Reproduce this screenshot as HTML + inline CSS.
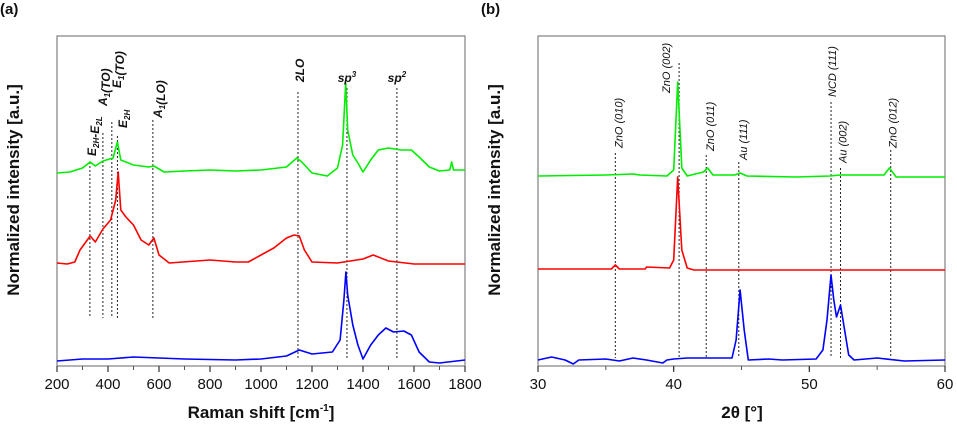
<!DOCTYPE html>
<html><head><meta charset="utf-8">
<style>
html,body{margin:0;padding:0;background:#fff;}
svg{display:block;font-family:"Liberation Sans",Arial,sans-serif;}
</style></head>
<body>
<svg id="fig" width="957" height="430" viewBox="0 0 957 430"></svg>
<script>
// ---------- Panel (a) data: Raman shift (cm-1), intensity (a.u., offset stacked) ----------
const ramanGreenX = [200,250,300,330,350,380,420,437,450,500,560,580,620,700,800,900,1000,1100,1140,1160,1200,1260,1300,1320,1332,1340,1360,1380,1400,1430,1460,1500,1550,1590,1620,1660,1700,1740,1748,1755,1800];
const ramanGreenY = [193,194,198,204,200,205,208,224,206,201,199,200,194,195,196,195,196,199,208,204,193,190,198,221,283,236,211,203,194,206,216,218,216,216,209,199,195,196,204,196,196];
const ramanRedX = [200,240,270,290,330,350,380,410,430,440,450,470,500,530,560,580,600,640,800,900,950,1000,1050,1100,1130,1150,1170,1200,1300,1400,1440,1500,1600,1800];
const ramanRedY = [103,102,104,116,130,124,137,146,166,194,156,149,141,126,121,128,111,103,106,104,104,111,118,128,131,130,116,104,103,107,111,105,102,102];
const ramanBlueX = [200,300,400,500,700,900,1000,1100,1150,1200,1280,1310,1325,1333,1340,1360,1380,1400,1430,1460,1490,1520,1560,1590,1620,1660,1700,1800];
const ramanBlueY = [5,7,7,9,7,6,7,10,16,12,14,26,66,94,71,41,21,7,21,31,38,34,35,31,14,4,3,6];
const ramanTicks = [200,400,600,800,1000,1200,1400,1600,1800];
const ramanLines = [329,380,415,437,576,1145,1337,1533];
const ramanLineTops = [162,133,122,136,120,92,88,88];

// ---------- Panel (b) data: 2theta (deg), intensity ----------
const xrdGreenX = [30,35,37,37.5,39.5,40.0,40.3,40.6,41,42.2,42.5,42.9,44.5,44.9,45.4,49,51.5,52.3,55.5,55.9,56.4,60];
const xrdGreenY = [190,191,192,191,190,196,284,198,190,194,198,191,191,193,190,189,190,191,191,198,189,189];
const xrdRedX = [30,35.4,35.7,36,37.9,38,39.7,40.0,40.3,40.6,41.0,41.5,60];
const xrdRedY = [97,97,101,97,97,99,98,106,189,116,98,96,96];
const xrdBlueX = [30,31,32,32.6,33,35,36,37,38,39.2,39.5,40,41,44.3,44.6,44.9,45.2,45.5,47,48,50.5,51.0,51.3,51.6,51.8,52.0,52.3,52.6,52.9,53.3,55,57,60];
const xrdBlueY = [6,9,6,2,6,7,5,8,6,3,6,7,8,8,26,76,36,6,7,6,7,16,46,91,66,49,61,36,11,6,8,5,6];
const xrdTicks = [30,40,50,60];
const xrdLines = [35.7,40.4,42.4,44.8,51.6,52.3,56.0];
const xrdLineTops = [153,63,155,162,102,168,150];
const xrdLabels = ["ZnO (010)","ZnO (002)","ZnO (011)","Au (111)","NCD (111)","Au (002)","ZnO (012)"];
const xrdLabelBottoms = [148,93,151,160,97,163,148];
const xrdLabelShift = [3,-13,4,4,1,2,2];

const NS = "http://www.w3.org/2000/svg";
const svg = document.getElementById('fig');
function el(tag, attrs, parent){
  const e = document.createElementNS(NS, tag);
  for (const k in attrs) e.setAttribute(k, attrs[k]);
  (parent||svg).appendChild(e);
  return e;
}
const plotTop = 36, plotBottom = 366;
function yScale(v){ return plotBottom - v; }

function panel(x0, x1, dmin, dmax, ticks, minorStep, name){
  const g = el('g', {});
  
  
  const xs = d => x0 + (d - dmin) / (dmax - dmin) * (x1 - x0);
  const fr = el('rect', {x:x0, y:plotTop, width:x1-x0, height:plotBottom-plotTop, fill:'none', stroke:'#808080', 'stroke-width':1.2}, g);
  
  
  for (let d = dmin; d <= dmax + 1e-9; d += minorStep){
    const t = el('line', {x1:xs(d), x2:xs(d), y1:plotBottom, y2:plotBottom+4, stroke:'#555', 'stroke-width':1}, g);
    
    
  }
  ticks.forEach(d => {
    const t = el('line', {x1:xs(d), x2:xs(d), y1:plotBottom, y2:plotBottom+6, stroke:'#333', 'stroke-width':1.2}, g);
    
    
    const tx = el('text', {x:xs(d), y:389, 'font-size':15, 'text-anchor':'middle', fill:'#111'}, g);
    
    
    tx.textContent = d;
  });
  return {g, xs};
}
function series(p, xsArr, ysArr, color, name){
  const pts = xsArr.map((d,i) => p.xs(d).toFixed(1) + ',' + yScale(ysArr[i]).toFixed(1)).join(' ');
  const pl = el('polyline', {points:pts, fill:'none', stroke:color, 'stroke-width':1.6, 'stroke-linejoin':'round'}, p.g);
  
  
}
function dash(p, d, yTop, yBot){
  const l = el('line', {x1:p.xs(d), x2:p.xs(d), y1:yTop, y2:yBot, stroke:'#222', 'stroke-width':1, 'stroke-dasharray':'2,2'}, p.g);
  
  
}
function vlabel(p, x, y, html, size, name){
  const t = el('text', {transform:'translate('+x+','+y+') rotate(-90)', 'font-size':size, 'font-style':'italic', 'font-weight':'bold', fill:'#111'}, p.g);
  
  
  t.innerHTML = html;
}

// ----- Panel a -----
const pa = panel(57, 465, 200, 1800, ramanTicks, 100, 'raman-panel');
ramanLines.forEach((d,i) => dash(pa, d, ramanLineTops[i], i < 5 ? 318 : 359));
series(pa, ramanBlueX, ramanBlueY, '#0000ff', 'raman-blue-series');
series(pa, ramanRedX, ramanRedY, '#ff0000', 'raman-red-series');
series(pa, ramanGreenX, ramanGreenY, '#00ee00', 'raman-green-series');
const sub = (s) => '<tspan font-size="8" dy="3">'+s+'</tspan><tspan dy="-3"></tspan>';
const supS = (s) => '<tspan font-size="8" dy="-5">'+s+'</tspan><tspan dy="5"></tspan>';
vlabel(pa, 96, 156, 'E'+sub('2H')+'-E'+sub('2L'), 12, 'peak-label-e2h-e2l');
vlabel(pa, 107, 106, 'A'+sub('1')+'(TO)', 12, 'peak-label-a1-to');
vlabel(pa, 121, 88, 'E'+sub('1')+'(TO)', 12, 'peak-label-e1-to');
vlabel(pa, 127, 128, 'E'+sub('2H'), 12, 'peak-label-e2h');
vlabel(pa, 162, 118, 'A'+sub('1')+'(LO)', 12, 'peak-label-a1-lo');
vlabel(pa, 304, 82, '2LO', 12, 'peak-label-2lo');
(function(){
  const t1 = el('text', {x:pa.xs(1337), y:82, 'font-size':12, 'font-style':'italic','font-weight':'bold','text-anchor':'middle', fill:'#111'}, pa.g);
  
  
  t1.innerHTML = 'sp'+supS('3');
  const t2 = el('text', {x:pa.xs(1533), y:82, 'font-size':12, 'font-style':'italic','font-weight':'bold','text-anchor':'middle', fill:'#111'}, pa.g);
  
  
  t2.innerHTML = 'sp'+supS('2');
})();

// ----- Panel b -----
const pb = panel(538, 945, 30, 60, xrdTicks, 5, 'xrd-panel');
xrdLines.forEach((d,i) => dash(pb, d, xrdLineTops[i], 358));
series(pb, xrdBlueX, xrdBlueY, '#0000ff', 'xrd-blue-series');
series(pb, xrdRedX, xrdRedY, '#ff0000', 'xrd-red-series');
series(pb, xrdGreenX, xrdGreenY, '#00ee00', 'xrd-green-series');
xrdLabels.forEach((s,i) => {
  const t = el('text', {transform:'translate('+(pb.xs(xrdLines[i])+xrdLabelShift[i]+4)+','+xrdLabelBottoms[i]+') rotate(-90)', 'font-size':11, 'font-style':'italic', fill:'#111'}, pb.g);
  
  
  t.textContent = s;
});

// ----- Titles -----
function txt(attrs, s, name){
  const t = el('text', attrs);
  
  
  t.innerHTML = s;
}
txt({x:0, y:14, 'font-size':15, 'font-weight':'bold', fill:'#111'}, '(a)', 'panel-a-label');
txt({x:481, y:14, 'font-size':15, 'font-weight':'bold', fill:'#111'}, '(b)', 'panel-b-label');
txt({x:261, y:418, 'font-size':17, 'font-weight':'bold', 'text-anchor':'middle', fill:'#111'}, 'Raman shift [cm<tspan font-size="10" dy="-7">-1</tspan><tspan dy="7">]</tspan>', 'raman-x-axis-title');
txt({x:742, y:418, 'font-size':17, 'font-weight':'bold', 'text-anchor':'middle', fill:'#111'}, '2θ [°]', 'xrd-x-axis-title');
txt({transform:'translate(19,190) rotate(-90)', 'font-size':17, 'font-weight':'bold', 'text-anchor':'middle', fill:'#111'}, 'Normalized intensity [a.u.]', 'raman-y-axis-title');
txt({transform:'translate(500,190) rotate(-90)', 'font-size':17, 'font-weight':'bold', 'text-anchor':'middle', fill:'#111'}, 'Normalized intensity [a.u.]', 'xrd-y-axis-title');
</script>
</body></html>
